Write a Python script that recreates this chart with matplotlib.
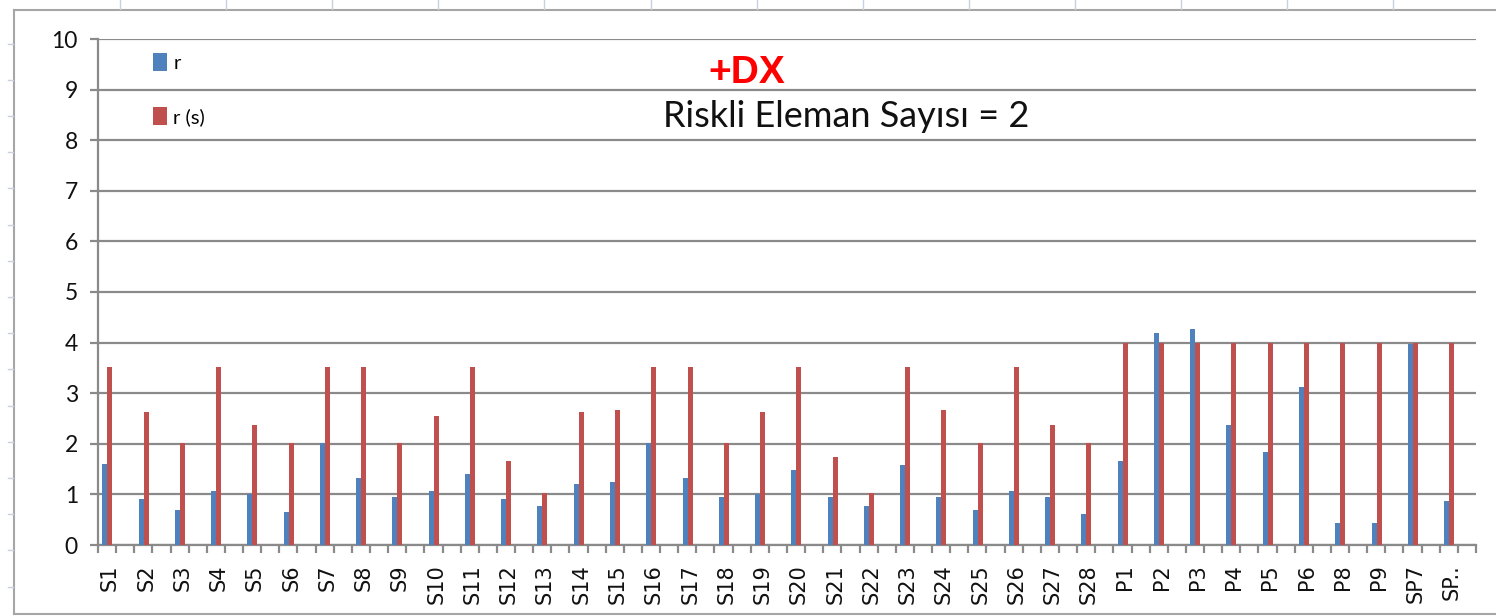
import matplotlib
matplotlib.use("Agg")
import matplotlib.pyplot as plt
import numpy as np
from matplotlib.lines import Line2D
from matplotlib.ticker import FixedLocator, MultipleLocator

categories = [f"S{i}" for i in range(1, 29)] + ["P1", "P2", "P3", "P4", "P5", "P6",
                                                  "P8", "P9", "SP7", "SP.."]
r_values = [1.61, 0.90, 0.69, 1.07, 1.01, 0.65, 2.01, 1.32, 0.94, 1.07,
            1.41, 0.90, 0.78, 1.20, 1.24, 2.01, 1.32, 0.94, 1.01, 1.49,
            0.94, 0.78, 1.58, 0.94, 0.69, 1.07, 0.94, 0.61,
            1.66, 4.19, 4.27, 2.38, 1.83, 3.13, 0.44, 0.44, 3.98, 0.86]
rs_values = [3.51, 2.63, 2.01, 3.51, 2.38, 2.01, 3.51, 3.51, 2.01, 2.55,
             3.51, 1.66, 1.02, 2.63, 2.67, 3.51, 3.51, 2.01, 2.63, 3.51,
             1.74, 1.02, 3.51, 2.67, 2.01, 3.51, 2.38, 2.01,
             4.0, 4.0, 4.0, 4.0, 4.0, 4.0, 4.0, 4.0, 4.0, 4.0]
series_names = ["r", "r (s)"]
title_top = "+DX"
title_main = "Riskli Eleman Sayısı = 2"

BLUE = "#4F81BD"
RED = "#C0504D"
GRID = "#8a8a8a"

W, H = 1496, 616
fig = plt.figure(figsize=(W / 100, H / 100), dpi=100)
fig.patch.set_facecolor("white")

ax = fig.add_axes([98 / W, 1 - 545 / H, (1476 - 98) / W, (545 - 39) / H])
x = np.arange(len(categories))
bw = 0.138
b1 = ax.bar(x - 0.312, r_values, width=bw, color=BLUE, label=series_names[0], zorder=3)
b2 = ax.bar(x - 0.174, rs_values, width=bw, color=RED, label=series_names[1], zorder=3)

ax.set_xlim(-0.5, len(categories) - 0.5)
ax.set_ylim(0, 10)
ax.yaxis.set_major_locator(MultipleLocator(1))
ax.grid(axis="y", color=GRID, linewidth=1.6, zorder=1)
ax.set_axisbelow(True)

for s in ["top", "right"]:
    ax.spines[s].set_visible(False)
for s in ["left", "bottom"]:
    ax.spines[s].set_color(GRID)
    ax.spines[s].set_linewidth(1.6)

# category labels (offset slightly left, as in reference)
ax.set_xticks(x - 0.17)
ax.set_xticklabels(categories, rotation=90, fontsize=15, family="DejaVu Sans",
                   color="#111111")
ax.tick_params(axis="x", which="major", length=0, pad=14)
ax.xaxis.set_minor_locator(FixedLocator(np.arange(-0.5, len(categories), 0.5)))
ax.tick_params(axis="x", which="minor", length=6, width=1.6, color=GRID)

ax.tick_params(axis="y", length=5.5, width=1.6, color=GRID, pad=9,
               labelsize=16.5)
for lab in ax.get_yticklabels():
    lab.set_family(["Lato", "DejaVu Sans"])
    lab.set_color("#111111")

leg = fig.legend(handles=[b1, b2], labels=series_names, loc="upper left",
                 bbox_to_anchor=(153 / W, 1 - 53 / H), frameon=False,
                 handlelength=0.7, handleheight=1.0,
                 handletextpad=0.3, labelspacing=1.75, borderpad=0,
                 borderaxespad=0, prop={"family": ["Lato", "DejaVu Sans"], "size": 14.5})

fig.text(747 / W, 1 - 83 / H, title_top, color="#FF0000", fontsize=28,
         fontweight="bold", family=["Liberation Sans", "DejaVu Sans"],
         ha="center", va="baseline")
fig.text(846 / W, 1 - 127 / H, title_main, color="#111111", fontsize=26,
         family=["Lato", "DejaVu Sans"], ha="center", va="baseline")

# chart area border (spreadsheet frame)
bc = "#a6a6a6"
fig.add_artist(Line2D([13.5 / W, 13.5 / W], [1 - 9.5 / H, 1 - 614 / H], color=bc, lw=1.5,
                      transform=fig.transFigure))
fig.add_artist(Line2D([13.5 / W, 1], [1 - 9.5 / H, 1 - 9.5 / H], color=bc, lw=1.5,
                      transform=fig.transFigure))
fig.add_artist(Line2D([13.5 / W, 1], [1 - 614 / H, 1 - 614 / H], color=bc, lw=1.5,
                      transform=fig.transFigure))
# faint spreadsheet cell lines outside the chart
cc = "#c9d0e0"
for cx in np.arange(120, W, 106.1):
    fig.add_artist(Line2D([cx / W, cx / W], [1, 1 - 8.5 / H], color=cc, lw=1,
                          transform=fig.transFigure))
for cy in np.arange(43.5, 612, 36.2):
    fig.add_artist(Line2D([8 / W, 13 / W], [1 - cy / H, 1 - cy / H], color=cc, lw=1,
                          transform=fig.transFigure))

fig.savefig("out.png", dpi=100)
